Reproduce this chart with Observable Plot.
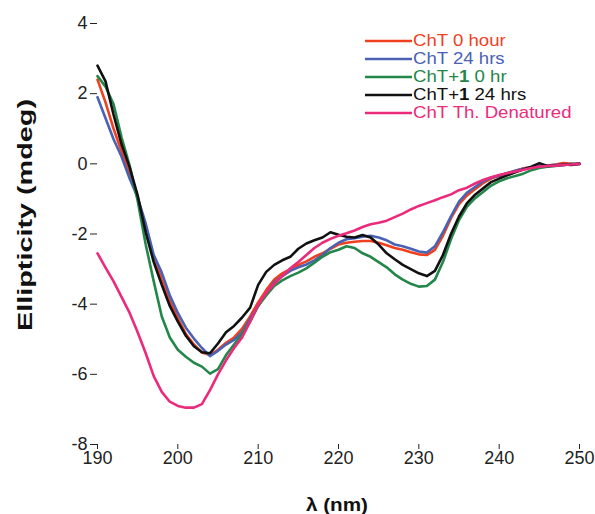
<!DOCTYPE html>
<html><head><meta charset="utf-8">
<script src="https://cdn.jsdelivr.net/npm/d3@7"></script>
<script src="https://cdn.jsdelivr.net/npm/@observablehq/plot@0.6"></script>
<style>
body{margin:0;background:#fff;}
#wrap{position:relative;width:595px;height:514px;font-family:"Liberation Sans",Arial,sans-serif;}
#legend{position:absolute;left:365px;top:32px;}
.row{position:relative;height:17.9px;font-size:15.5px;white-space:nowrap;}
.row svg{position:absolute;left:0;top:7px;}
.row span{position:absolute;left:48px;top:0;line-height:17.9px;transform:scale(1.2,1.08);transform-origin:0 50%;}
</style></head><body><div id="wrap"><div id="legend"></div></div>
<script>
const seriesNames = ["ChT 0 hour","ChT 24 hrs","ChT+1 0 hr","ChT+1 24 hrs","ChT Th. Denatured"];
const seriesColors = ["#f0401f","#4a62b4","#23874a","#111111","#ec2a7c"];
const xTicks = [190,200,210,220,230,240,250];
const yTicks = [-8,-6,-4,-2,0,2,4];
const wavelength = [190,191,192,193,194,195,196,197,198,199,200,201,202,203,204,205,206,207,208,209,210,211,212,213,214,215,216,217,218,219,220,221,222,223,224,225,226,227,228,229,230,231,232,233,234,235,236,237,238,239,240,241,242,243,244,245,246,247,248,249,250];
const chT0 = [2.4,1.75,1.0,0.35,-0.3,-0.95,-1.85,-2.65,-3.3,-3.9,-4.4,-4.85,-5.15,-5.38,-5.45,-5.3,-5.1,-4.95,-4.7,-4.35,-3.95,-3.6,-3.3,-3.12,-3.0,-2.88,-2.78,-2.65,-2.55,-2.42,-2.3,-2.25,-2.22,-2.2,-2.2,-2.25,-2.32,-2.4,-2.45,-2.52,-2.58,-2.6,-2.45,-2.05,-1.55,-1.15,-0.9,-0.72,-0.55,-0.42,-0.34,-0.26,-0.2,-0.13,-0.1,-0.04,-0.05,-0.02,0.02,0.0,0.0];
const chT24 = [1.9,1.3,0.7,0.2,-0.42,-0.96,-1.7,-2.6,-3.1,-3.75,-4.25,-4.67,-4.98,-5.25,-5.48,-5.33,-5.15,-5.02,-4.8,-4.42,-4.05,-3.7,-3.38,-3.2,-3.05,-2.95,-2.87,-2.75,-2.6,-2.4,-2.25,-2.15,-2.12,-2.08,-2.05,-2.1,-2.18,-2.3,-2.35,-2.42,-2.5,-2.53,-2.35,-1.95,-1.5,-1.08,-0.82,-0.66,-0.5,-0.4,-0.33,-0.27,-0.2,-0.14,-0.1,-0.05,-0.06,-0.03,-0.04,0.0,0.0];
const chT1_0 = [2.5,2.2,1.7,0.75,-0.05,-1.05,-2.3,-3.35,-4.35,-4.95,-5.3,-5.5,-5.67,-5.78,-5.98,-5.85,-5.45,-5.15,-4.85,-4.5,-4.05,-3.75,-3.48,-3.32,-3.2,-3.1,-2.98,-2.82,-2.65,-2.52,-2.45,-2.35,-2.4,-2.55,-2.65,-2.8,-2.95,-3.15,-3.3,-3.42,-3.5,-3.48,-3.3,-2.8,-2.15,-1.6,-1.22,-0.98,-0.8,-0.62,-0.5,-0.41,-0.35,-0.28,-0.18,-0.12,-0.08,-0.06,-0.03,-0.01,0.0];
const chT1_24 = [2.8,2.35,1.4,0.55,-0.1,-0.9,-1.95,-2.8,-3.45,-4.05,-4.5,-4.9,-5.2,-5.37,-5.4,-5.12,-4.8,-4.62,-4.38,-4.1,-3.45,-3.08,-2.88,-2.75,-2.65,-2.42,-2.27,-2.18,-2.1,-1.95,-2.02,-2.08,-2.1,-2.03,-2.1,-2.3,-2.55,-2.72,-2.88,-3.0,-3.12,-3.2,-3.05,-2.6,-2.0,-1.5,-1.12,-0.88,-0.7,-0.52,-0.42,-0.33,-0.24,-0.16,-0.08,0.02,-0.06,-0.05,-0.02,-0.03,0.0];
const chTDen = [-2.55,-2.96,-3.35,-3.8,-4.25,-4.8,-5.4,-6.05,-6.5,-6.78,-6.9,-6.95,-6.95,-6.85,-6.45,-6.0,-5.6,-5.25,-4.95,-4.5,-4.02,-3.68,-3.42,-3.2,-2.98,-2.8,-2.6,-2.4,-2.25,-2.14,-2.05,-1.98,-1.9,-1.8,-1.72,-1.68,-1.62,-1.52,-1.42,-1.3,-1.2,-1.12,-1.04,-0.95,-0.87,-0.75,-0.68,-0.56,-0.46,-0.38,-0.32,-0.27,-0.22,-0.17,-0.12,-0.08,-0.06,-0.05,-0.03,-0.02,0.0];
const seriesValues = [chT0, chT24, chT1_0, chT1_24, chTDen];

const data = [];
seriesNames.forEach((name, i) => {
  wavelength.forEach((w, j) => data.push({series: name, wl: w, v: seriesValues[i][j]}));
});

const chart = Plot.plot({
  width: 595, height: 514,
  marginLeft: 97, marginRight: 16, marginTop: 23, marginBottom: 70,
  style: {fontFamily: '"Liberation Sans", Arial, sans-serif', fontSize: "18px", color: "#222", background: "#fff", overflow: "visible"},
  x: {domain: [190, 250]},
  y: {domain: [-8, 4]},
  color: {domain: seriesNames, range: seriesColors},
  marks: [
    Plot.axisX({ticks: xTicks, tickSize: 5, tickPadding: 2, line: true, label: null, tickFormat: d => String(d)}),
    Plot.axisY({ticks: yTicks, tickSize: 7, tickPadding: 3, line: true, label: null, tickFormat: d => String(d)}),
    Plot.line(data, {x: "wl", y: "v", z: "series", stroke: "series", strokeWidth: 2.6, strokeLinejoin: "round", curve: "linear"})
  ]
});

const svg = d3.select(chart);
svg.append("text")
  .attr("transform", "translate(25,215) rotate(-90)")
  .attr("text-anchor", "middle").attr("dominant-baseline", "central")
  .attr("font-weight", "bold").attr("font-size", 20)
  .attr("textLength", 232).attr("lengthAdjust", "spacingAndGlyphs")
  .attr("fill", "#111")
  .text("Ellipticity (mdeg)");
svg.append("text")
  .attr("x", 337).attr("y", 511)
  .attr("text-anchor", "middle")
  .attr("font-weight", "bold").attr("font-size", 19)
  .attr("textLength", 62).attr("lengthAdjust", "spacingAndGlyphs")
  .attr("fill", "#111")
  .text("λ (nm)");

document.getElementById("wrap").prepend(chart);
chart.style.position = "absolute"; chart.style.left = "0"; chart.style.top = "0";

const legend = d3.select("#legend");
seriesNames.forEach((name, i) => {
  const row = legend.append("div").attr("class", "row");
  const s = row.append("svg").attr("width", 48).attr("height", 4);
  s.append("line").attr("x1", 0).attr("x2", 47).attr("y1", 2).attr("y2", 2)
    .attr("stroke", seriesColors[i]).attr("stroke-width", 2.6);
  row.append("span").style("color", seriesColors[i])
    .html(name.replace("+1", "+<b>1</b>"));
});
</script></body></html>
